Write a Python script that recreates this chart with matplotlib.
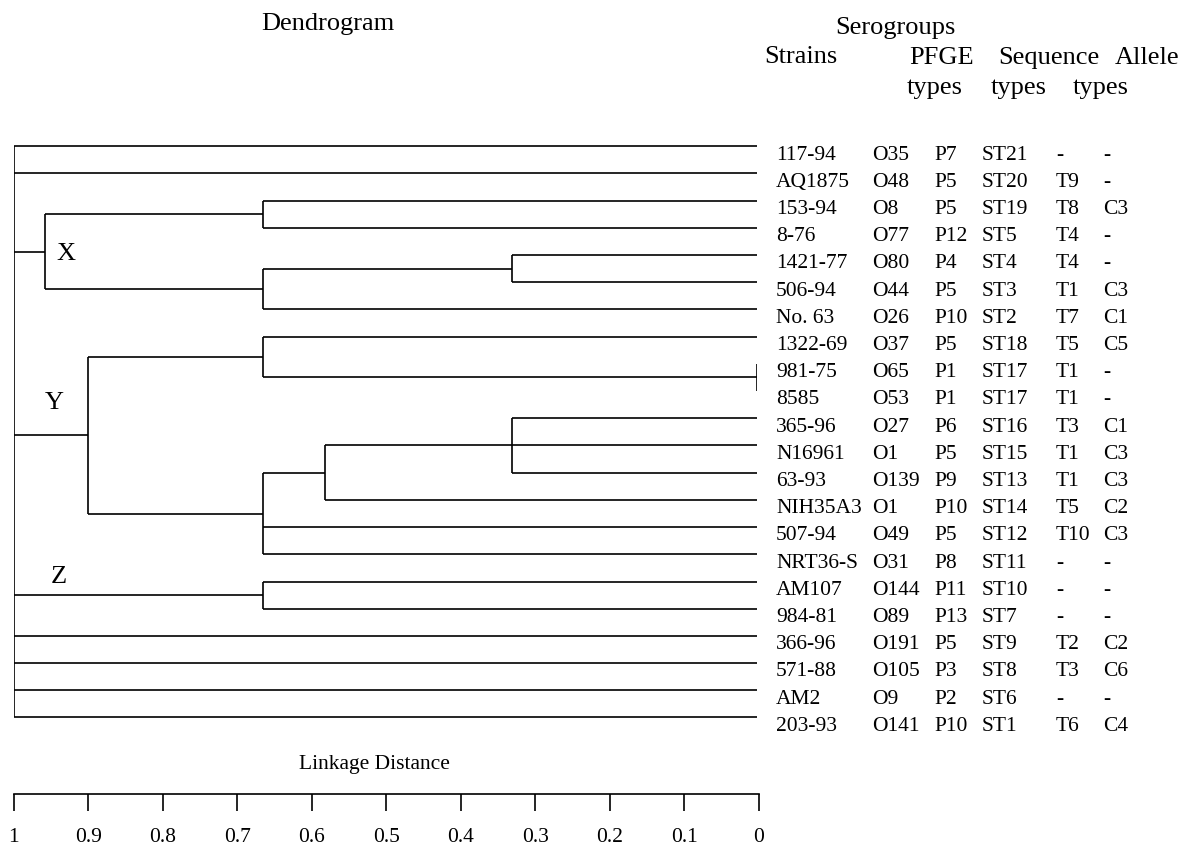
import matplotlib
matplotlib.use("Agg")
import matplotlib.pyplot as plt
from matplotlib import transforms

plt.rcParams['font.family'] = ['Liberation Serif', 'DejaVu Serif']

# table rows, top to bottom (same order as the dendrogram leaves)
strains = ['117-94', 'AQ1875', '153-94', '8-76', '1421-77', '506-94', 'No. 63',
           '1322-69', '981-75', '8585', '365-96', 'N16961', '63-93', 'NIH35A3',
           '507-94', 'NRT36-S', 'AM107', '984-81', '366-96', '571-88', 'AM2', '203-93']
serogroups = ['O35', 'O48', 'O8', 'O77', 'O80', 'O44', 'O26', 'O37', 'O65', 'O53', 'O27',
              'O1', 'O139', 'O1', 'O49', 'O31', 'O144', 'O89', 'O191', 'O105', 'O9', 'O141']
pfge_types = ['P7', 'P5', 'P5', 'P12', 'P4', 'P5', 'P10', 'P5', 'P1', 'P1', 'P6',
              'P5', 'P9', 'P10', 'P5', 'P8', 'P11', 'P13', 'P5', 'P3', 'P2', 'P10']
seq_types = ['ST21', 'ST20', 'ST19', 'ST5', 'ST4', 'ST3', 'ST2', 'ST18', 'ST17', 'ST17', 'ST16',
             'ST15', 'ST13', 'ST14', 'ST12', 'ST11', 'ST10', 'ST7', 'ST9', 'ST8', 'ST6', 'ST1']
allele_t = ['-', 'T9', 'T8', 'T4', 'T4', 'T1', 'T7', 'T5', 'T1', 'T1', 'T3',
            'T1', 'T1', 'T5', 'T10', '-', '-', '-', 'T2', 'T3', '-', 'T6']
allele_c = ['-', '-', 'C3', '-', '-', 'C3', 'C1', 'C5', '-', '-', 'C1',
            'C3', 'C3', 'C2', 'C3', '-', '-', '-', 'C2', 'C6', '-', 'C4']

# merge tree: (linkage distance, children), ints are leaf rows
tree = (1.0, [0, 1,
              (0.958, [(0.664, [2, 3]),
                       (0.664, [(0.33, [4, 5]), 6])]),
              (0.90, [(0.664, [7, (0.0, [8, 9])]),
                      (0.664, [(0.581, [(0.33, [10, 11, 12]), 13]), 14, 15])]),
              (0.664, [16, 17]),
              18, 19, 20, 21])

cluster_names = ['X', 'Y', 'Z']
cluster_dist = [0.929, 0.945, 0.939]
cluster_row = [3.92, 9.4, 15.78]

ticks = [1, 0.9, 0.8, 0.7, 0.6, 0.5, 0.4, 0.3, 0.2, 0.1, 0]
tick_labels = ['1', '0.9', '0.8', '0.7', '0.6', '0.5', '0.4', '0.3', '0.2', '0.1', '0']

W, H = 1184, 845
LW = 1.2


def fx(x):
    return x / W


def fy(y):
    return 1 - y / H


fig = plt.figure(figsize=(W / 100, H / 100), dpi=100)

# dendrogram axes: distance 1 -> 0 left to right, rows top to bottom
row0, dy = 147.3, 27.2
ax = fig.add_axes([fx(13.6), fy(row0 + 21.5 * dy), fx(757 - 13.6), (22 * dy) / H])
ax.set_xlim(1, 0)
ax.set_ylim(21.5, -0.5)
ax.axis('off')


def draw(node):
    if isinstance(node, int):
        return 0.0, float(node)
    h, children = node
    pts = [draw(c) for c in children]
    for cx, cy in pts:
        ax.plot([cx, h], [cy, cy], color='black', lw=LW, solid_capstyle='butt')
    ys = [p[1] for p in pts]
    ax.plot([h, h], [min(ys), max(ys)], color='black', lw=LW, solid_capstyle='butt')
    return h, (min(ys) + max(ys)) / 2


draw(tree)

for name, d, r in zip(cluster_names, cluster_dist, cluster_row):
    ax.text(d, r, name, fontsize=19, ha='center', va='center')

# table next to the leaves
trans = transforms.blended_transform_factory(fig.transFigure, ax.transData)
columns = [(776, strains), (872, serogroups), (934, pfge_types),
           (982, seq_types), (1056, allele_t), (1103, allele_c)]
for x, values in columns:
    for i, v in enumerate(values):
        ax.text(fx(x), i + 0.29, v, transform=trans, fontsize=15.5,
                ha='left', va='center', clip_on=False)

# headers
hdr = 19
fig.text(fx(328), fy(24), 'Dendrogram', fontsize=hdr, ha='center', va='center')
fig.text(fx(895), fy(28), 'Serogroups', fontsize=hdr, ha='center', va='center')
fig.text(fx(801), fy(57), 'Strains', fontsize=hdr, ha='center', va='center')
fig.text(fx(942), fy(58), 'PFGE', fontsize=hdr, ha='center', va='center')
fig.text(fx(1049), fy(58), 'Sequence', fontsize=hdr, ha='center', va='center')
fig.text(fx(1147), fy(58), 'Allele', fontsize=hdr, ha='center', va='center')
for x in [935, 1019, 1101]:
    fig.text(fx(x), fy(88), 'types', fontsize=hdr, ha='center', va='center')

# linkage distance scale
sc = fig.add_axes([fx(13.6), fy(795), fx(759 - 13.6), 0.0001])
sc.set_xlim(1, 0)
sc.set_yticks([])
for s in ['top', 'left', 'right']:
    sc.spines[s].set_visible(False)
sc.spines['bottom'].set_linewidth(LW)
sc.set_xticks(ticks)
sc.set_xticklabels(tick_labels)
sc.tick_params(axis='x', direction='out', length=12, width=LW, pad=11.5, labelsize=15.5)
fig.text(fx(374), fy(765), 'Linkage Distance', fontsize=15.5, ha='center', va='center')

fig.savefig('out.png', dpi=100)
